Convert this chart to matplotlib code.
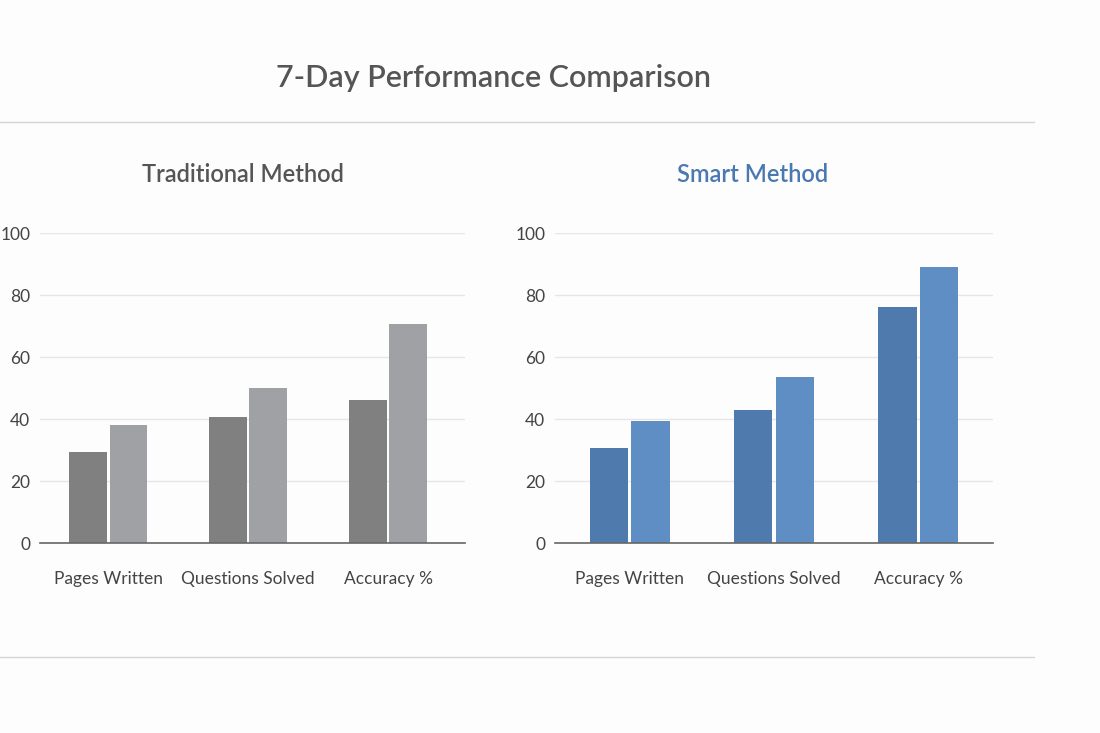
import matplotlib.pyplot as plt
import numpy as np

plt.rcParams['font.family'] = ['Lato', 'DejaVu Sans']

categories = ["Pages Written", "Questions Solved", "Accuracy %"]
trad_a = [29.5, 40.5, 46]
trad_b = [38, 50, 70.5]
smart_a = [30.5, 43, 76]
smart_b = [39.5, 53.5, 89]
yticks = [0, 20, 40, 60, 80, 100]

fig = plt.figure(figsize=(11, 7.33), dpi=100)
fig.patch.set_facecolor('#fdfdfd')

fig.text(0.449, 0.893, "7-Day Performance Comparison", ha='center', va='center',
         fontsize=22, color='#555555', fontweight='semibold')
# separator lines
fig.add_artist(plt.Line2D([0, 0.94], [1 - 122 / 733] * 2, color='#d5d5d5', lw=1))
fig.add_artist(plt.Line2D([0, 0.94], [1 - 657 / 733] * 2, color='#d5d5d5', lw=1))


def draw(ax, a, b, ca, cb, xlim):
    x = np.arange(len(categories))
    w = 0.265
    off = 0.143
    ax.bar(x - off, a, w, color=ca, zorder=2)
    ax.bar(x + off, b, w, color=cb, zorder=2)
    ax.set_ylim(0, 100)
    ax.set_xlim(*xlim)
    ax.set_yticks(yticks)
    ax.set_xticks(x)
    ax.set_xticklabels(categories)
    ax.grid(axis='y', color='#e6e6e6', lw=1, zorder=0)
    for s in ['top', 'right', 'left']:
        ax.spines[s].set_visible(False)
    ax.spines['bottom'].set_color('#666666')
    ax.spines['bottom'].set_linewidth(1.2)
    ax.tick_params(axis='both', length=0, labelsize=12.5, colors='#444444')
    ax.tick_params(axis='x', pad=20)
    ax.tick_params(axis='y', pad=7)
    ax.set_facecolor('none')


ax1 = fig.add_axes([40 / 1100, 1 - 543 / 733, 425 / 1100, 310 / 733])
draw(ax1, trad_a, trad_b, '#808080', '#a0a1a5', (-0.486, 2.55))

ax2 = fig.add_axes([555 / 1100, 1 - 543 / 733, 438 / 1100, 310 / 733])
draw(ax2, smart_a, smart_b, '#4e7aae', '#5f8ec4', (-0.52, 2.52))

fig.text(243 / 1100, 1 - 175 / 733, "Traditional Method", ha='center', va='center',
         fontsize=17, color='#555555', fontweight='semibold')
fig.text(753 / 1100, 1 - 175 / 733, "Smart Method", ha='center', va='center',
         fontsize=17, color='#4a78b0', fontweight='semibold')

fig.savefig("out.png", dpi=100, facecolor=fig.get_facecolor())
